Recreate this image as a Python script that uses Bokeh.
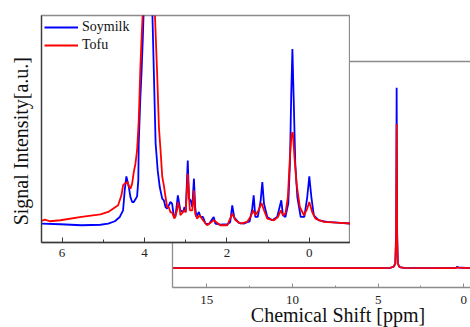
from math import pi
from bokeh.plotting import figure
from bokeh.layouts import column
from bokeh.models import Range1d, FixedTicker, LinearAxis, Label
from bokeh.embed import file_html
from bokeh.resources import INLINE

# ---------------- data ----------------
# full spectrum (main panel), intensity normalised to the Soymilk maximum
main_ppm = [17.0, 10.0, 5.0, 4.3, 4.1, 4.0, 3.95, 3.92, 3.89, 3.85, 3.75, 3.5,
            1.0, 0.5, 0.42, 0.38, 0.34, -0.39]
main_soymilk = [0, 0, 0, 0.002, 0.008, 0.025, 0.2, 1.0, 0.2, 0.025, 0.006, 0.002,
                0, 0, 0.004, 0.01, 0.004, 0]
main_tofu = [0, 0, 0, 0.002, 0.008, 0.025, 0.16, 0.8, 0.16, 0.025, 0.006, 0.002,
             0, 0, 0.003, 0.006, 0.003, 0]

# zoomed spectrum (inset), arbitrary units
soy_ppm = [6.50, 6.04, 5.53, 5.07, 4.88, 4.72, 4.60, 4.52, 4.48, 4.44, 4.38, 4.34,
           4.30, 4.26, 4.22, 4.18, 4.15, 4.14, 4.10, 4.07, 4.04, 4.02, 3.93, 3.81,
           3.77, 3.73, 3.71, 3.68, 3.63, 3.57, 3.53, 3.49, 3.45, 3.41, 3.37, 3.33,
           3.29, 3.25, 3.19, 3.13, 3.06, 3.03, 3.00, 2.95, 2.92, 2.88, 2.84, 2.80,
           2.77, 2.74, 2.68, 2.64, 2.58, 2.52, 2.44, 2.32, 2.28, 2.16, 1.99, 1.92,
           1.87, 1.82, 1.71, 1.59, 1.49, 1.45, 1.39, 1.35, 1.31, 1.25, 1.18, 1.14,
           1.10, 1.02, 0.90, 0.78, 0.72, 0.68, 0.64, 0.58, 0.51, 0.47, 0.44, 0.41,
           0.38, 0.34, 0.29, 0.21, 0.12, 0.05, 0.00, -0.05, -0.11, -0.23, -0.43,
           -0.76, -1.00]
soy_int = [19.0, 18.3, 17.3, 17.8, 19.0, 21.3, 25.6, 32.3, 52.3, 66.3, 55.6, 45.3,
           40.6, 40.6, 43.3, 46.3, 62.3, 99.0, 145.6, 172.3, 205.6, 232.3, 400.0, 232.0,
           165.6, 99.0, 89.0, 72.3, 55.6, 44.0, 42.3, 35.6, 34.0, 37.3, 40.6, 39.0,
           27.3, 25.6, 47.3, 32.3, 30.6, 35.6, 30.3, 82.3, 44.0, 42.3, 35.6, 64.0,
           35.6, 25.6, 30.6, 25.6, 25.6, 19.0, 18.3, 25.6, 19.0, 18.0, 18.3, 20.3,
           37.3, 25.0, 19.6, 19.0, 20.6, 21.0, 32.3, 47.3, 25.6, 25.6, 42.3, 60.6,
           39.0, 25.6, 22.3, 25.6, 35.6, 42.3, 27.3, 25.6, 39.0, 79.0, 145.6, 194.0,
           145.6, 79.0, 45.6, 25.6, 25.6, 45.6, 66.3, 45.6, 27.3, 22.3, 20.6,
           19.6, 19.0]

tofu_ppm = [6.50, 6.42, 6.30, 6.04, 5.53, 5.07, 4.88, 4.64, 4.56, 4.52, 4.48, 4.41,
            4.38, 4.34, 4.30, 4.26, 4.22, 4.18, 4.14, 4.10, 4.06, 4.04, 3.93, 3.75,
            3.69, 3.65, 3.61, 3.57, 3.53, 3.49, 3.45, 3.41, 3.37, 3.33, 3.29, 3.27,
            3.21, 3.19, 3.14, 3.13, 3.03, 3.00, 2.95, 2.90, 2.84, 2.80, 2.77, 2.72,
            2.66, 2.58, 2.48, 2.32, 2.16, 1.99, 1.87, 1.79, 1.67, 1.51, 1.43, 1.36,
            1.31, 1.23, 1.16, 1.10, 1.02, 0.86, 0.76, 0.69, 0.64, 0.58, 0.52, 0.47,
            0.43, 0.40, 0.36, 0.31, 0.23, 0.13, 0.05, 0.00, -0.07, -0.15, -0.35,
            -0.76, -1.00]
tofu_int = [21.6, 23.0, 21.3, 22.3, 25.6, 28.3, 30.6, 37.3, 47.3, 57.3, 59.0, 60.6,
            56.3, 54.0, 59.0, 70.6, 79.0, 92.3, 122.3, 175.6, 215.6, 232.0, 320.0, 232.0,
            165.6, 115.6, 92.3, 66.3, 57.3, 45.6, 35.6, 35.3, 30.3, 30.3, 25.6, 24.0,
            32.3, 40.6, 32.3, 27.3, 32.3, 30.3, 69.0, 32.3, 32.3, 52.3, 29.0, 24.0,
            27.3, 22.3, 17.3, 22.3, 17.3, 17.3, 29.0, 22.3, 19.0, 20.6, 25.6, 32.3,
            27.3, 32.3, 39.6, 32.3, 24.0, 22.3, 25.6, 32.3, 27.3, 29.0, 45.6, 85.6,
            109.0, 110.6, 85.6, 59.0, 35.6, 27.3, 34.0, 40.6, 30.6, 24.0, 20.6,
            19.6, 19.0]

main_ticks = [15, 10, 5, 0]
main_minor = [12.5, 7.5, 2.5]
inset_ticks = [6, 4, 2, 0]
inset_minor = [5, 3, 1, -1]

series_names = ["Soymilk", "Tofu"]
series_colors = ["blue", "red"]
x_title = "Chemical Shift [ppm]"
y_title = "Signal Intensity[a.u.]"

# ---------------- styling ----------------
SERIF = "Liberation Serif"
GRAY = "#8c8c8c"
DARK = "#3a3a3a"
BL, BR = 10, 0   # shared left/right borders (a column aligns them)


def bare_y_axis(ax, color):
    ax.ticker = FixedTicker(ticks=[])
    ax.axis_line_color = color
    ax.axis_line_width = 1.3
    ax.major_tick_out = 0
    ax.major_tick_in = 0
    ax.minor_tick_out = 0
    ax.minor_tick_in = 0
    ax.major_label_standoff = 0
    ax.major_label_text_font_size = "0px"


# ---------------- main panel ----------------
main = figure(width=308, height=327, output_backend="svg", toolbar_location=None,
              x_range=Range1d(17.0, -0.39), y_range=Range1d(-0.107, 1.146),
              min_border_left=BL, min_border_right=BR, min_border_top=61,
              min_border_bottom=40,
              styles={"position": "absolute", "left": "162px", "top": "0px"})
main.outline_line_color = None
main.xgrid.visible = False
main.ygrid.visible = False
main.background_fill_color = "white"
main.border_fill_color = None

main.line(main_ppm, main_soymilk, line_color=series_colors[0], line_width=1.8)
main.line(main_ppm, main_tofu, line_color=series_colors[1], line_width=1.8)

xa = main.xaxis[0]
xa.ticker = FixedTicker(ticks=main_ticks, minor_ticks=main_minor)
xa.axis_line_color = GRAY
xa.axis_line_width = 1.3
xa.major_tick_line_color = GRAY
xa.minor_tick_line_color = GRAY
xa.major_tick_in = 4
xa.major_tick_out = 0
xa.minor_tick_in = 2
xa.minor_tick_out = 0
xa.major_label_standoff = 8
xa.major_label_text_font = SERIF
xa.major_label_text_font_size = "13px"
xa.major_label_text_color = "#222222"

bare_y_axis(main.yaxis[0], GRAY)

top_axis = LinearAxis(ticker=FixedTicker(ticks=[]), axis_line_color=GRAY,
                      axis_line_width=1.3, major_label_text_font_size="0px",
                      major_tick_out=0, minor_tick_out=0, major_label_standoff=0)
main.add_layout(top_axis, "above")

# ---------------- inset panel ----------------
ins = figure(width=319, height=265, output_backend="svg", toolbar_location=None,
             x_range=Range1d(6.5, -1.0), y_range=Range1d(0, 227.6),
             min_border_left=BL, min_border_right=BR, min_border_top=15,
             min_border_bottom=23,
             styles={"position": "absolute", "left": "31px", "top": "0px"})
ins.border_fill_color = None
ins.background_fill_color = "white"
ins.outline_line_color = GRAY
ins.outline_line_width = 1.3
ins.xgrid.visible = False
ins.ygrid.visible = False

ins.line(soy_ppm, soy_int, line_color=series_colors[0], line_width=1.8,
         legend_label=series_names[0])
ins.line(tofu_ppm, tofu_int, line_color=series_colors[1], line_width=1.8,
         legend_label=series_names[1])

ia = ins.xaxis[0]
ia.ticker = FixedTicker(ticks=inset_ticks, minor_ticks=inset_minor)
ia.axis_line_color = DARK
ia.axis_line_width = 1.3
ia.major_tick_line_color = DARK
ia.minor_tick_line_color = DARK
ia.major_tick_in = 5
ia.major_tick_out = 0
ia.minor_tick_in = 3
ia.minor_tick_out = 0
ia.major_label_standoff = 6
ia.major_label_text_font = SERIF
ia.major_label_text_font_size = "13px"
ia.major_label_text_color = "#222222"

bare_y_axis(ins.yaxis[0], DARK)

leg = ins.legend[0]
leg.location = "top_left"
leg.margin = 3
leg.padding = 0
leg.spacing = 0
leg.glyph_width = 34
leg.glyph_height = 18
leg.label_height = 18
leg.label_standoff = 4
leg.border_line_color = None
leg.background_fill_alpha = 0
leg.label_text_font = SERIF
leg.label_text_font_size = "14px"
leg.label_text_color = "#111111"

# ---------------- transparent overlay carrying the two axis titles ----------------
ann = figure(width=470, height=327, output_backend="svg", toolbar_location=None,
             x_range=Range1d(0, 460), y_range=Range1d(327, 0),
             min_border_left=BL, min_border_right=BR, min_border_top=0,
             min_border_bottom=0, x_axis_location=None, y_axis_location=None,
             styles={"position": "absolute", "left": "-10px", "top": "0px"})
ann.border_fill_color = None
ann.background_fill_color = None
ann.outline_line_color = None
ann.grid.visible = False

ann.add_layout(Label(x=337.5, y=314.0, text=x_title,
                     text_align="center", text_baseline="alphabetic",
                     text_font=SERIF, text_font_size="20px", text_color="#111111"))
ann.add_layout(Label(x=20.5, y=140.7, text=y_title, angle=pi / 2,
                     text_align="center", text_baseline="alphabetic",
                     text_font=SERIF, text_font_size="20px", text_color="#111111"))

layout = column(main, ins, ann, width=470, height=327,
                styles={"position": "relative"})

open("out.html", "w").write(file_html(layout, INLINE))
